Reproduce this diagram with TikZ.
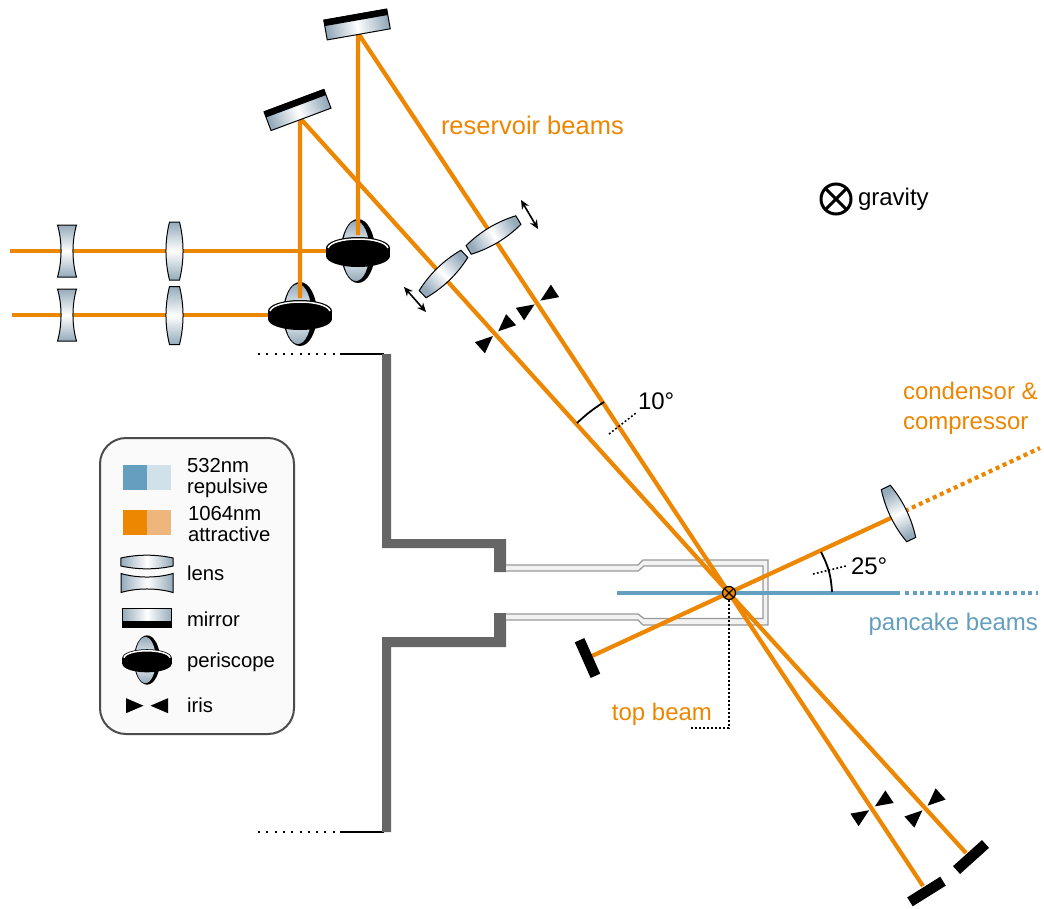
\documentclass[tikz,border=0pt]{standalone}
\usepackage{fontspec}
\setmainfont{Liberation Sans}
\usetikzlibrary{arrows.meta}
\definecolor{laserir}{HTML}{ED8600}
\definecolor{laserirlight}{HTML}{ECB67C}
\definecolor{lasergreen}{HTML}{649FBF}
\definecolor{lasergreenlight}{HTML}{D0E1EA}
\definecolor{steelgrey}{HTML}{94AABA}
\definecolor{wallgrey}{HTML}{666666}
\pgfdeclarehorizontalshading{steel}{100bp}{color(0bp)=(steelgrey); color(25bp)=(steelgrey); color(50bp)=(white); color(75bp)=(steelgrey); color(100bp)=(steelgrey)}
\tikzset{
	optic/.style={shade, shading=steel, draw=black, line width=1pt},
	pics/lensconvex/.style={code={
		\path [optic, shading angle=#1] (-29,-5) .. controls (-10,-9.7) and (10,-9.7) .. (29,-5) -- (29,5) .. controls (10,9.7) and (-10,9.7) .. (-29,5) -- cycle;
	}},
	pics/lensconcave/.style={code={
		\path [optic, shading angle=#1] (-26,-9.5) .. controls (-10,-4.8) and (10,-4.8) .. (26,-9.5) -- (26,9.5) .. controls (10,4.8) and (-10,4.8) .. (-26,9.5) -- cycle;
	}},
	pics/mirror/.style={code={
		\path [optic, shading angle=#1] (-32,-10) rectangle (32,10);
		\fill [black] (-32,-10.5) rectangle (32,-4);
	}},
	pics/periscope/.style={code={
		\fill [black] (0,0) ellipse [x radius=17, y radius=32];
		\path [shade, shading=steel, shading angle=90] (-2,0) ellipse [x radius=13.5, y radius=30];
		\fill [black] (0,-3) ellipse [x radius=32, y radius=11];
		\fill [black] (0,5) ellipse [x radius=32, y radius=11];
		\fill [black] (-32,-3) rectangle (32,5);
		\draw [white, line width=1.5pt] (-30,-3) .. controls (-26,-15) and (26,-15) .. (30,-3);
	}},
	pics/iris/.style={code={
		\fill [black] (3.5,0) -- (21,-7.5) -- (21,7.5) -- cycle;
		\fill [black] (-3.5,0) -- (-21,-7.5) -- (-21,7.5) -- cycle;
	}},
	pics/lensconvex/.default=0,
	pics/lensconcave/.default=0,
	pics/mirror/.default=0,
}
\begin{document}
\begin{tikzpicture}[
	x=1pt, y=-1pt,
	every node/.style={inner sep=0pt, outer sep=0pt, font=\fontsize{24}{30}\selectfont},
	beam/.style={line width=4.2pt, draw=laserir},
	beamdot/.style={beam, dash pattern=on 4pt off 3.7pt},
	pancake/.style={line width=4pt, draw=lasergreen},
	pancakedot/.style={pancake, dash pattern=on 4pt off 3.7pt},
	stopper/.style={fill=black, minimum width=39pt, minimum height=10.5pt},
	wall/.style={fill=wallgrey},
	edgeline/.style={draw=black, line width=1.6pt},
	fardots/.style={draw=black, line width=2pt, dash pattern=on 2pt off 6.3pt},
	leader/.style={draw=black, line width=1.6pt, dash pattern=on 1.8pt off 2.2pt},
	angletick/.style={draw=black, line width=1.8pt},
	lensmove/.style={draw=black, line width=1.6pt, {Stealth[length=9pt,width=8pt]}-{Stealth[length=9pt,width=8pt]}},
	cell/.style={draw=black!40, line width=1.3pt},
	legend/.style={font=\fontsize{20.3}{21}\selectfont, anchor=west, align=left},
]
\useasboundingbox (0,0) rectangle (1044,908);
\fill [white] (0,0) rectangle (1044,908);

\coordinate (cross) at (729,593);
\coordinate (inup) at (10,251);
\coordinate (inlow) at (12,315);
\coordinate (peraC) at (300,314);
\coordinate (perbC) at (358,251);
\coordinate (peraE) at (300,315);
\coordinate (peraT) at (300,298);
\coordinate (perbT) at (358,235);
\coordinate (mirA) at (300,118);
\coordinate (mirB) at (358,33);
\coordinate (endA) at (966,853);
\coordinate (endB) at (923,886);
\coordinate (stopend) at (592,656);
\coordinate (lensend) at (891,518);
\coordinate (lensfar) at (905,511);
\coordinate (topfar) at (1040,448);
\coordinate (panstart) at (617,593);
\coordinate (panend) at (900,593);
\coordinate (panfar) at (1038,593);

% vacuum chamber
\draw [fardots] (258,354) -- (336,354);
\draw [fardots] (258,832) -- (336,832);
\draw [edgeline] (340,354) -- (384,354);
\draw [edgeline] (340,832) -- (384,832);
\path [wall] (382,354) -- (382,548) -- (494,548) -- (494,572) -- (506,572) -- (506,539) -- (391,539) -- (391,354) -- cycle;
\path [wall] (382,832) -- (382,637) -- (494,637) -- (494,613) -- (506,613) -- (506,647) -- (391,647) -- (391,832) -- cycle;

% glass cell
\path [cell, fill=black!5] (506,565) -- (638,565) -- (643,560) -- (768,560) -- (768,625) -- (643,625) -- (638,620) -- (506,620);
\path [cell, fill=white] (506,571) -- (638,571) -- (644,566) -- (763,566) -- (763,618.5) -- (644,618.5) -- (638,614) -- (506,614);

% beams
\draw [pancake] (panstart) -- (panend);
\draw [pancakedot] (panend) ++(5,0) -- (panfar);
\draw [beam] (inup) -- (perbC);
\draw [beam] (inlow) -- (peraE);
\draw [beam] (stopend) -- (lensend);
\draw [beamdot] (lensfar) -- (topfar);
\pic at (peraC) {periscope};
\pic at (perbC) {periscope};
\draw [beam] (peraT) -- (mirA) -- (cross) -- (endA);
\draw [beam] (perbT) -- (mirB) -- (cross) -- (endB);

% optics
\pic [rotate=90] (lensI) at (67,251) {lensconcave=90};
\pic [rotate=90] (lensII) at (67,315) {lensconcave=90};
\pic [rotate=90] (lensIII) at (174.5,251) {lensconvex=90};
\pic [rotate=90] (lensIV) at (174.5,315.5) {lensconvex=90};
\pic [rotate=44] (lensA) at (443.5,274) {lensconvex=44};
\pic [rotate=31] (lensB) at (493.5,235) {lensconvex=31};
\pic [rotate=-64] (lensT) at (898.5,513.5) {lensconvex=-64};
\pic [rotate=10] (mirrorB) at (357,24.5) {mirror=10};
\pic [rotate=20.5] (mirrorA) at (297.5,110) {mirror=20.5};
\pic [rotate=33.5] (irisB) at (537.5,302.5) {iris};
\pic [rotate=42] (irisA) at (495.5,333.7) {iris};
\pic [rotate=33.5] (irisC) at (872,808.3) {iris};
\pic [rotate=42] (irisD) at (925,808) {iris};
\node [stopper, rotate=32] (stopB) at (926.5,891.5) {};
\node [stopper, rotate=42] (stopA) at (971,857) {};
\node [stopper, rotate=-66] (stopT) at (587.5,658) {};
\coordinate (shiftAa) at (404,287);
\coordinate (shiftAb) at (426,312);
\coordinate (shiftBa) at (521,200);
\coordinate (shiftBb) at (538,229);
\draw [lensmove] (shiftAa) -- (shiftAb);
\draw [lensmove] (shiftBa) -- (shiftBb);

% angles
\coordinate (tenA) at (577,423);
\coordinate (tenB) at (604,402);
\coordinate (tenC) at (609,434);
\coordinate (tenD) at (636,413);
\coordinate (twentyA) at (821,552);
\coordinate (twentyB) at (832,592);
\coordinate (twentyC) at (813,574);
\coordinate (twentyD) at (846,566);
\draw [angletick] (tenA) to [bend left=5] (tenB);
\draw [angletick] (twentyA) to [bend left=12] (twentyB);
\draw [leader] (tenC) -- (tenD);
\draw [leader] (twentyC) -- (twentyD);
\node [anchor=west] (tenlabel) at (638,401) {10°};
\node [anchor=west] (twentylabel) at (851,566) {25°};

% atoms and gravity
\node [circle, draw=black, fill=laserir, line width=1.2pt, minimum size=13pt] (atoms) at (cross) {};
\draw [line width=1.2pt] (atoms.45) -- (atoms.225) (atoms.135) -- (atoms.315);
\node [circle, draw=black, fill=white, line width=3pt, minimum size=30pt] (gsymbol) at (836,199) {};
\draw [line width=3pt] (gsymbol.45) -- (gsymbol.225) (gsymbol.135) -- (gsymbol.315);
\node [anchor=west] (glabel) at (858,199) {gravity};

% labels
\node [anchor=west, text=laserir, font=\fontsize{25.5}{30}\selectfont] (reslabel) at (441,125) {reservoir beams};
\node [anchor=west, text=laserir, align=left] (condlabel) at (903,408) {condensor \&\\compressor};
\node [anchor=east, text=lasergreen] (panlabel) at (1038,624) {pancake beams};
\node [anchor=east, text=laserir] (toplabel) at (712,714) {top beam};
\coordinate (topA) at (729,600);
\coordinate (topB) at (729,728);
\coordinate (topC) at (690,728);
\draw [leader, line width=2pt] (topA) -- (topB) -- (topC);

% legend
\node [draw=black!70, line width=2pt, fill=black!2, rounded corners=26pt, minimum width=194pt, minimum height=296pt] (legendbox) at (197,586) {};
\fill [lasergreen] (123,465) rectangle (147,490);
\fill [lasergreenlight] (147,465) rectangle (171,490);
\fill [laserir] (123,510) rectangle (147,535);
\fill [laserirlight] (147,510) rectangle (171,535);
\node [legend] (greenlabel) at (187,478) {532nm\\repulsive};
\node [legend] (irlabel) at (188,524) {1064nm\\attractive};
\pic [xscale=.9, yscale=.8] (leglensA) at (147,562) {lensconvex};
\pic (leglensB) at (147,583) {lensconcave};
\pic [rotate=180, xscale=.78, yscale=.95] (legmirror) at (147,617.5) {mirror};
\pic [scale=.77] (legperiscope) at (147,660) {periscope};
\pic (legiris) at (147,705.7) {iris};
\node [legend] (lenslabel) at (187,573) {lens};
\node [legend] (mirrorlabel) at (187,619) {mirror};
\node [legend] (periscopelabel) at (187,662) {periscope};
\node [legend] (irislabel) at (187,705) {iris};
\end{tikzpicture}
\end{document}
